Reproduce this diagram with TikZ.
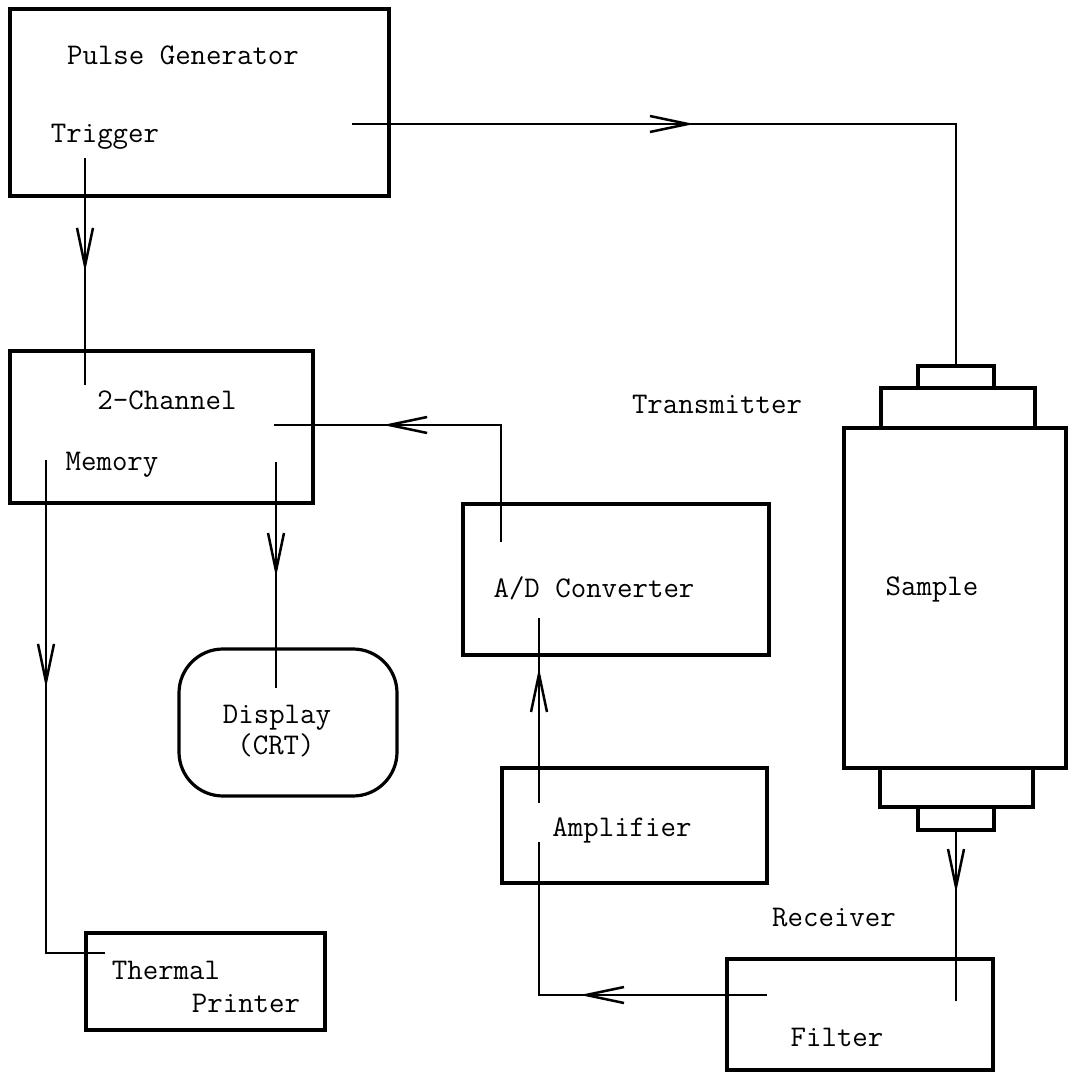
\documentclass[tikz,border=0pt]{standalone}
\usetikzlibrary{arrows.meta,decorations.markings,fit}
\begin{document}
\begin{tikzpicture}[x=0.5pt,y=-0.5pt,
  box/.style={draw, line width=1.6pt, inner sep=0pt},
  conn/.style={line width=1.25pt},
  lbl/.style={font=\ttfamily\fontsize{15}{18}\selectfont, inner sep=0pt},
  midarr/.style={postaction={decorate}, decoration={markings,
    mark=at position #1 with {\arrow{Straight Barb[length=19pt,width=8pt,line width=1.25pt]}}}}]
\useasboundingbox (0,0) rectangle (1072,1074);
\fill[white] (0,0) rectangle (1072,1074);

% boxes
\node[box, fit={(10,9) (389,196)}] (pg) {};
\node[box, fit={(10,351) (313,503)}] (mem) {};
\node[box, rounded corners=22pt, fit={(179,649) (397,796)}] (disp) {};
\node[box, fit={(86,933) (325,1030)}] (prn) {};
\node[box, fit={(463,504) (769,655)}] (adc) {};
\node[box, fit={(502,768) (767,883)}] (amp) {};
\node[box, fit={(727,959) (993,1070)}] (fil) {};
\node[box, fit={(844,428) (1066,768)}] (smp) {};
\node[box, fit={(881,388) (1035,428)}] (capU) {};
\node[box, fit={(918,366) (994,388)}] (capT) {};
\node[box, fit={(880,768) (1033,807)}] (capL) {};
\node[box, fit={(918,807) (994,830)}] (capB) {};

% labels
\node[lbl] (tpg) at (183,55) {Pulse Generator};
\node[lbl] (ttrig) at (105,137) {Trigger};
\node[lbl] (tmem1) at (167,400) {2-Channel};
\node[lbl] (tmem2) at (112,465) {Memory};
\node[lbl] (tdisp1) at (277,718) {Display};
\node[lbl] (tdisp2) at (276,745) {(CRT)};
\node[lbl] (tprn1) at (166,970) {Thermal};
\node[lbl] (tprn2) at (246,1003) {Printer};
\node[lbl] (tadc) at (594,588) {A/D Converter};
\node[lbl] (tamp) at (622,830) {Amplifier};
\node[lbl] (tfil) at (837,1037) {Filter};
\node[lbl] (trec) at (834,918) {Receiver};
\node[lbl] (ttx) at (717,404) {Transmitter};
\node[lbl] (tsmp) at (932,589) {Sample};

% connector end points
\coordinate (trigS) at (85,158);
\coordinate (trigE) at (85,385);
\coordinate (pgOut) at (352,124);
\coordinate (adIn) at (501,542);
\coordinate (memIn) at (274,425);
\coordinate (memP) at (46,460);
\coordinate (prIn) at (105,953);
\coordinate (memD) at (276,462);
\coordinate (dispIn) at (276,688);
\coordinate (ampOut) at (539,803);
\coordinate (adcIn) at (539,618);
\coordinate (filOut) at (767,995);
\coordinate (ampIn) at (539,842);
\coordinate (filIn) at (956,1001);

% connectors
\draw[conn, midarr=0.502] (trigS) -- (trigE);
\draw[conn, midarr=0.405] (pgOut) -| (capT.north);
\draw[conn, midarr=0.683] (adIn) |- (memIn);
\draw[conn, midarr=0.413] (memP) |- (prIn);
\draw[conn, midarr=0.509] (memD) -- (dispIn);
\draw[conn, midarr=0.730] (ampOut) -- (adcIn);
\draw[conn, midarr=0.491] (filOut) -| (ampIn);
\draw[conn, midarr=0.363] (capB.south) -- (filIn);
\end{tikzpicture}
\end{document}
